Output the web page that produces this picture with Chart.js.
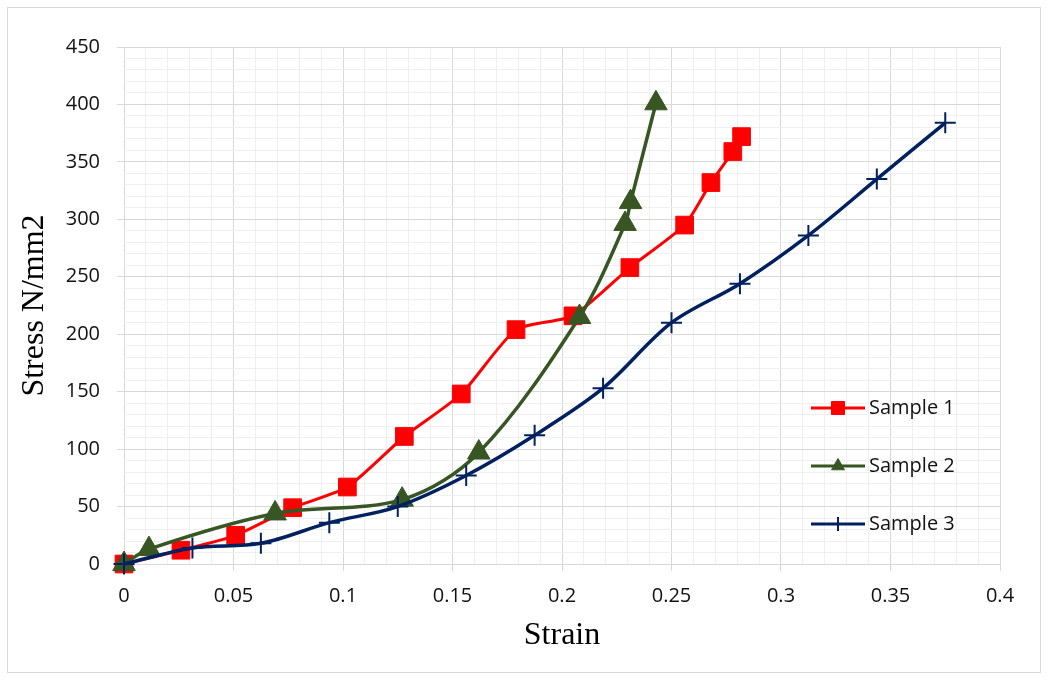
<!DOCTYPE html>
<html>
<head>
<meta charset="utf-8">
<title>Stress vs Strain</title>
<script src="https://cdn.jsdelivr.net/npm/chart.js@4.4.0/dist/chart.umd.min.js"></script>
<style>
  html, body { margin: 0; padding: 0; background: #fff; }
  #wrap { position: relative; width: 1049px; height: 681px; }
</style>
</head>
<body>
<div id="wrap"><canvas id="myChart"></canvas></div>
<script>
// values
var seriesNames = ['Sample 1', 'Sample 2', 'Sample 3'];

var strain1 = [0, 0.026, 0.051, 0.077, 0.102, 0.128, 0.154, 0.179, 0.205, 0.231, 0.256, 0.268, 0.278, 0.282];
var stress1 = [0, 12, 25, 49, 67, 111, 148, 204, 216, 258, 295, 332, 359, 372];

var strain2 = [0, 0.0114, 0.069, 0.127, 0.162, 0.208, 0.2288, 0.2313, 0.2429];
var stress2 = [0, 13, 44, 56, 97, 215, 296, 315, 401];

var strain3 = [0, 0.03125, 0.0625, 0.09375, 0.125, 0.15625, 0.1875, 0.21875, 0.25, 0.28125, 0.3125, 0.34375, 0.375];
var stress3 = [0, 14, 18, 36, 50, 77, 112, 153, 210, 244, 286, 335, 384];

var xTickLabels = ['0', '0.05', '0.1', '0.15', '0.2', '0.25', '0.3', '0.35', '0.4'];
var yTickLabels = ['0', '50', '100', '150', '200', '250', '300', '350', '400', '450'];

var MAJOR = '#d9d9d9';
var MINOR = '#f0f0f0';
var TEXT = '#111111';

function toPoints(xs, ys) {
    var pts = [];
    for (var i = 0; i < xs.length; i++) {
        pts.push({x: xs[i], y: ys[i]});
    }
    return pts;
}

function isMajorX(v) { return Math.round(v * 100) % 5 === 0; }
function isMajorY(v) { return Math.round(v) % 50 === 0; }

// outer frame like the excel chart border
var frame = {
    id: 'frame',
    beforeDraw: function(chart) {
        var ctx = chart.ctx;
        ctx.save();
        ctx.fillStyle = '#ffffff';
        ctx.fillRect(0, 0, chart.width, chart.height);
        ctx.strokeStyle = '#d9d9d9';
        ctx.lineWidth = 1;
        ctx.strokeRect(7.5, 7.5, 1033, 665);
        ctx.restore();
    }
};

// legend sits inside the plot on the right
var legendBox = {
    id: 'legendBox',
    afterDatasetsDraw: function(chart) {
        var ctx = chart.ctx;
        var rows = [408, 466, 524];
        chart.data.datasets.forEach(function(ds, i) {
            var y = rows[i];
            ctx.save();
            ctx.strokeStyle = ds.borderColor;
            ctx.lineWidth = 3;
            ctx.beginPath();
            ctx.moveTo(811, y);
            ctx.lineTo(865, y);
            ctx.stroke();
            ctx.fillStyle = ds.borderColor;
            ctx.lineWidth = ds.pointBorderWidth;
            Chart.helpers.drawPoint(ctx, {
                pointStyle: ds.pointStyle,
                radius: ds.legendRadius,
                borderWidth: ds.pointBorderWidth,
                rotation: 0
            }, 838, y);
            ctx.fillStyle = TEXT;
            ctx.font = '20px "Open Sans"';
            ctx.textBaseline = 'middle';
            ctx.textAlign = 'left';
            ctx.fillText(ds.label, 869, y);
            ctx.restore();
        });
    }
};

var ctx = document.getElementById('myChart');
var chart = new Chart(ctx, {
    type: 'line',
    data: {
        datasets: [{
            label: seriesNames[0],
            data: toPoints(strain1, stress1),
            borderColor: '#ff0000',
            backgroundColor: '#ff0000',
            borderWidth: 3,
            tension: 0.2,
            pointStyle: 'rect',
            pointRadius: 12.5,
            pointBorderWidth: 1,
            pointBackgroundColor: '#ff0000',
            pointBorderColor: '#ff0000',
            legendRadius: 9.2,
            clip: false,
            order: 3
        }, {
            label: seriesNames[1],
            data: toPoints(strain2, stress2),
            borderColor: '#375623',
            backgroundColor: '#375623',
            borderWidth: 3.5,
            tension: 0.33,
            pointStyle: 'triangle',
            pointRadius: 13,
            pointBorderWidth: 1,
            pointBackgroundColor: '#375623',
            pointBorderColor: '#375623',
            legendRadius: 7.5,
            clip: false,
            order: 2
        }, {
            label: seriesNames[2],
            data: toPoints(strain3, stress3),
            borderColor: '#002060',
            backgroundColor: '#002060',
            borderWidth: 3.5,
            tension: 0.33,
            pointStyle: 'cross',
            pointRadius: 10.5,
            pointBorderWidth: 2,
            pointBackgroundColor: '#002060',
            pointBorderColor: '#002060',
            legendRadius: 7,
            clip: false,
            order: 1
        }]
    },
    options: {
        responsive: true,
        maintainAspectRatio: false,
        animation: false,
        devicePixelRatio: 1,
        layout: {
            autoPadding: false,
            padding: {left: 11, top: 47, right: 49, bottom: 22}
        },
        plugins: {
            legend: {display: false},
            tooltip: {enabled: false}
        },
        scales: {
            x: {
                type: 'linear',
                min: 0,
                max: 0.4,
                afterFit: function(scale) { scale.height = 95; },
                border: {display: false},
                grid: {
                    color: function(c) { return isMajorX(c.tick.value) ? MAJOR : MINOR; },
                    tickColor: function(c) { return isMajorX(c.tick.value) ? MAJOR : 'rgba(0,0,0,0)'; },
                    tickLength: 7,
                    lineWidth: 1
                },
                ticks: {
                    stepSize: 0.01,
                    autoSkip: false,
                    maxRotation: 0,
                    minRotation: 0,
                    padding: 13,
                    color: TEXT,
                    font: {family: 'Open Sans', size: 20},
                    callback: function(v) {
                        var k = Math.round(v * 100);
                        return k % 5 === 0 ? xTickLabels[k / 5] : '';
                    }
                },
                title: {
                    display: true,
                    text: 'Strain',
                    color: '#000000',
                    font: {family: 'Liberation Serif', size: 32},
                    padding: {top: 4, bottom: 4}
                }
            },
            y: {
                type: 'linear',
                min: 0,
                max: 450,
                afterFit: function(scale) { scale.width = 113; },
                border: {display: false},
                grid: {
                    color: function(c) { return isMajorY(c.tick.value) ? MAJOR : MINOR; },
                    tickColor: function(c) { return isMajorY(c.tick.value) ? MAJOR : 'rgba(0,0,0,0)'; },
                    tickLength: 7,
                    lineWidth: 1
                },
                ticks: {
                    stepSize: 10,
                    autoSkip: false,
                    padding: 17,
                    color: TEXT,
                    font: {family: 'Open Sans', size: 20},
                    callback: function(v) {
                        var k = Math.round(v);
                        return k % 50 === 0 ? yTickLabels[k / 50] : '';
                    }
                },
                title: {
                    display: true,
                    text: 'Stress N/mm2',
                    color: '#000000',
                    font: {family: 'Liberation Serif', size: 32},
                    padding: {top: 4, bottom: 4}
                }
            }
        }
    },
    plugins: [frame, legendBox]
});
</script>
</body>
</html>
